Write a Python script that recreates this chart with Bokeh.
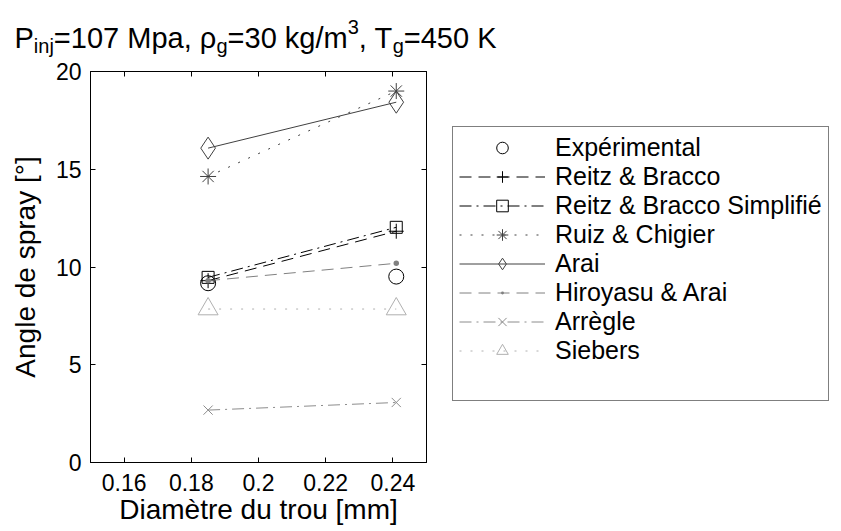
from bokeh.plotting import figure
from bokeh.layouts import column, row
from bokeh.models import Legend, LegendItem, LinearAxis, FixedTicker, Label, Range1d
from bokeh.embed import file_html
from bokeh.resources import INLINE

# ---------------- data ----------------
diam = [0.185, 0.241]
experimental = [9.17, 9.51]
reitz_bracco = [9.30, 11.83]
reitz_bracco_simpl = [9.47, 12.03]
ruiz_chigier = [14.63, 19.0]
arai = [16.08, 18.43]
hiroyasu_arai = [9.30, 10.19]
arregle = [2.68, 3.07]
siebers = [7.85, 7.85]

series_names = ["Expérimental", "Reitz & Bracco", "Reitz & Bracco Simplifié",
                "Ruiz & Chigier", "Arai", "Hiroyasu & Arai", "Arrègle", "Siebers"]

x_ticks = [0.16, 0.18, 0.2, 0.22, 0.24]
x_tick_labels = ["0.16", "0.18", "0.2", "0.22", "0.24"]
y_ticks = [0, 5, 10, 15, 20]

x_label = "Diamètre du trou [mm]"
y_label = "Angle de spray [°]"
title_parts = [("P", "n"), ("inj", "sub"), ("=107 Mpa, ρ", "n"), ("g", "sub"),
               ("=30 kg/m", "n"), ("3", "sup"), (", T", "n"), ("g", "sub"), ("=450 K", "n")]

FONT = "Liberation Sans"

# ---------------- main plot ----------------
p = figure(width=440, height=471, output_backend="svg", toolbar_location=None,
           x_range=Range1d(0.15, 0.25), y_range=Range1d(0, 20),
           min_border_left=90, min_border_right=14, min_border_top=11, min_border_bottom=69)
p.title = None
p.xgrid.visible = False
p.ygrid.visible = False
p.outline_line_color = "black"
p.outline_line_width = 1
p.background_fill_color = "white"
p.border_fill_color = "white"

for ax in p.xaxis:
    ax.ticker = FixedTicker(ticks=x_ticks)
    ax.major_label_overrides = {t: l for t, l in zip(x_ticks, x_tick_labels)}
    ax.axis_label = x_label
    ax.axis_label_standoff = 0
    ax.major_label_standoff = 11
for ax in p.yaxis:
    ax.ticker = FixedTicker(ticks=y_ticks)
    ax.axis_label = y_label
    ax.axis_label_standoff = 12
    ax.major_label_standoff = 9

for ax in list(p.xaxis) + list(p.yaxis):
    ax.major_tick_in = 5
    ax.major_tick_out = 0
    ax.minor_tick_line_color = None
    ax.axis_line_color = "black"
    ax.major_tick_line_color = "black"
    ax.major_label_text_font = FONT
    ax.major_label_text_font_size = "23px"
    ax.major_label_text_color = "black"
    ax.axis_label_text_font = FONT
    ax.axis_label_text_font_size = "28px"
    ax.axis_label_text_font_style = "normal"
    ax.axis_label_text_color = "black"

# mirrored ticks (no labels) on top and right
top_ax = LinearAxis(ticker=FixedTicker(ticks=x_ticks), major_tick_in=5, major_tick_out=0,
                    minor_tick_line_color=None, major_label_text_font_size="1px",
                    major_label_text_color=None,
                    major_label_standoff=0, axis_line_color="black")
right_ax = LinearAxis(ticker=FixedTicker(ticks=y_ticks), major_tick_in=5, major_tick_out=0,
                      minor_tick_line_color=None, major_label_text_font_size="1px",
                      major_label_text_color=None,
                      major_label_standoff=0, axis_line_color="black")
p.add_layout(top_ax, "above")
p.add_layout(right_ax, "right")

styles = [
    # values, line_dash, color, marker, size
    (experimental, None, "black", "circle", 15),
    (reitz_bracco, "12 7", "black", "cross", 15),
    (reitz_bracco_simpl, "12 5 2 5", "black", "square", 12),
    (ruiz_chigier, "2 9", "#404040", "asterisk", 16),
    (arai, "solid", "#404040", "diamond", 22),
    (hiroyasu_arai, "12 7", "#808080", "dot", 22),
    (arregle, "12 5 2 5", "#8c8c8c", "x", 13),
    (siebers, "2 9", "#b0b0b0", "triangle", 20),
]

for vals, dash, color, marker, size in styles:
    if dash is not None:
        p.line(diam, vals, line_color=color, line_width=1, line_dash=dash)
    p.scatter(diam, vals, marker=marker, size=size, line_color=color, line_width=1,
              fill_color=color if marker == "dot" else None)

# ---------------- legend panel ----------------
# Same series re-drawn in a side figure whose ranges keep them out of view;
# only its legend is visible.
lg = figure(width=401, height=471, output_backend="svg", toolbar_location=None,
            x_axis_type=None, y_axis_type=None,
            x_range=Range1d(0, 1), y_range=Range1d(-2, -1),
            min_border_left=0, min_border_right=0, min_border_top=0, min_border_bottom=0)
lg.title = None
lg.xgrid.visible = False
lg.ygrid.visible = False
lg.outline_line_color = None
lg.border_fill_color = "white"
lg.background_fill_color = "white"

items = []
for name, (vals, dash, color, marker, size) in zip(series_names, styles):
    rends = []
    if dash is not None:
        rends.append(lg.line(diam, vals, line_color=color, line_width=1, line_dash=dash))
    rends.append(lg.scatter(diam, vals, marker=marker, size=size, line_color=color, line_width=1,
                            fill_color=color if marker == "dot" else None))
    items.append(LegendItem(label=name, renderers=rends))

# invisible spacer row reproducing the extra space at the bottom of the legend box
spacer = lg.scatter(diam, siebers, size=1, line_alpha=0, fill_alpha=0)
items.append(LegendItem(label=" ", renderers=[spacer]))

legend = Legend(items=items, location=(12, 61), padding=6, spacing=0, margin=0,
                glyph_width=86, glyph_height=29, label_standoff=10,
                label_text_font=FONT, label_text_font_size="25px", label_text_color="black",
                border_line_color="black", border_line_width=1,
                background_fill_color="white", background_fill_alpha=1)
lg.add_layout(legend, "center")

# ---------------- title panel (with sub/superscripts) ----------------
tt = figure(width=841, height=60, output_backend="svg", toolbar_location=None,
            x_axis_type=None, y_axis_type=None,
            min_border_left=0, min_border_right=0, min_border_top=0, min_border_bottom=0)
tt.title = None
tt.xgrid.visible = False
tt.ygrid.visible = False
tt.outline_line_color = None
tt.border_fill_color = "white"
tt.background_fill_color = "white"

char_w = {"P": .667, "i": .222, "n": .556, "j": .222, "=": .584, "0": .556, "1": .556,
          "3": .556, "4": .556, "5": .556, "7": .556, " ": .278, "M": .833, "p": .556,
          "a": .556, ",": .278, "ρ": .578, "g": .556, "k": .5, "/": .278, "m": .833,
          "T": .611, "K": .667}
main_size = 29
small_size = 20
x_pos = 14
base_y = 23
for txt, kind in title_parts:
    size = main_size if kind == "n" else small_size
    if kind == "sub":
        y = base_y - 8
    elif kind == "sup":
        y = base_y + 11
    else:
        y = base_y
    tt.add_layout(Label(x=x_pos, y=y, x_units="screen", y_units="screen", text=txt,
                        text_font=FONT, text_font_size=f"{size}px", text_color="black",
                        text_baseline="alphabetic", text_align="left"))
    x_pos += sum(char_w.get(c, .556) for c in txt) * size

layout = column(tt, row(p, lg, spacing=0), spacing=0)
open("out.html", "w").write(file_html(layout, INLINE))
